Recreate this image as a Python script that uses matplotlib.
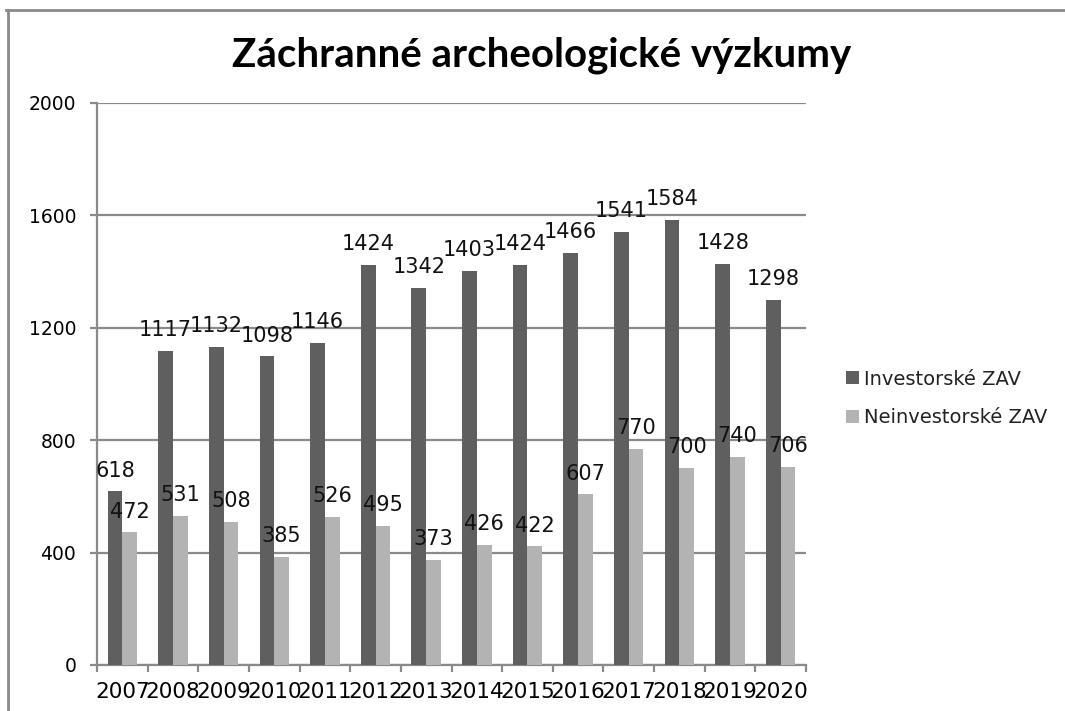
import matplotlib
matplotlib.use("Agg")
import matplotlib.pyplot as plt
from matplotlib.lines import Line2D
import numpy as np

years = ["2007", "2008", "2009", "2010", "2011", "2012", "2013",
         "2014", "2015", "2016", "2017", "2018", "2019", "2020"]
investorske = [618, 1117, 1132, 1098, 1146, 1424, 1342, 1403, 1424, 1466, 1541, 1584, 1428, 1298]
neinvestorske = [472, 531, 508, 385, 526, 495, 373, 426, 422, 607, 770, 700, 740, 706]
series_names = ["Investorské ZAV", "Neinvestorské ZAV"]
title = "Záchranné archeologické výzkumy"
y_ticks = [0, 400, 800, 1200, 1600, 2000]

DARK = "#5f5f5f"
LIGHT = "#b3b3b3"
GRID = "#8a8a8a"

plt.rcParams['font.family'] = ['DejaVu Sans']

fig = plt.figure(figsize=(10.65, 7.11), dpi=100)
ax = fig.add_axes([97/1065, 1-665/711, (806-97)/1065, (665-103)/711])

x = np.arange(len(years))
w = 0.29
b1 = ax.bar(x - w/2, investorske, w, color=DARK, label=series_names[0], zorder=3)
b2 = ax.bar(x + w/2, neinvestorske, w, color=LIGHT, label=series_names[1], zorder=3)

for bars, vals in ((b1, investorske), (b2, neinvestorske)):
    for r, v in zip(bars, vals):
        ax.annotate(str(v), (r.get_x() + r.get_width()/2, v), xytext=(0, 15),
                    textcoords="offset points", ha="center", va="center",
                    fontsize=15, color="#111111", zorder=5)

ax.set_xlim(-0.5, len(years) - 0.5)
ax.set_ylim(0, 2000)
ax.set_yticks(y_ticks)
ax.set_yticklabels([str(t) for t in y_ticks], fontsize=13.5)
ax.yaxis.grid(True, color=GRID, lw=1.6, zorder=0)
ax.set_axisbelow(True)

ax.set_xticks(np.arange(len(years) + 1) - 0.5)
ax.set_xticklabels([])
ax.set_xticks(x, minor=True)
ax.set_xticklabels(years, minor=True, fontsize=15.5)
ax.tick_params(axis="x", which="major", length=5, width=1.6, color=GRID, direction="out")
ax.tick_params(axis="x", which="minor", length=0, pad=12)
ax.tick_params(axis="y", length=5, width=1.6, color=GRID, direction="out", pad=10)

for s in ("top", "right"):
    ax.spines[s].set_visible(False)
for s in ("left", "bottom"):
    ax.spines[s].set_color(GRID)
    ax.spines[s].set_linewidth(1.6)

fig.text(542/1065, 1-55/711, title, ha="center", va="center",
         fontsize=29, fontweight="bold", family=["Lato", "DejaVu Sans"], color="black")

leg = fig.legend(handles=[b1, b2], labels=series_names, loc="center left",
                 bbox_to_anchor=(846/1065, 1-398.5/711), frameon=False,
                 fontsize=14, handlelength=0.65, handleheight=0.65,
                 handletextpad=0.3, labelspacing=1.0, borderpad=0, borderaxespad=0)
for t in leg.get_texts():
    t.set_color("#222222")

fig.add_artist(Line2D([6/1065, 1], [1-10/711, 1-10/711], color=GRID, lw=2, transform=fig.transFigure))
fig.add_artist(Line2D([8/1065, 8/1065], [0, 1-10/711], color=GRID, lw=2, transform=fig.transFigure))

fig.savefig("out.png", dpi=100, facecolor="white")
